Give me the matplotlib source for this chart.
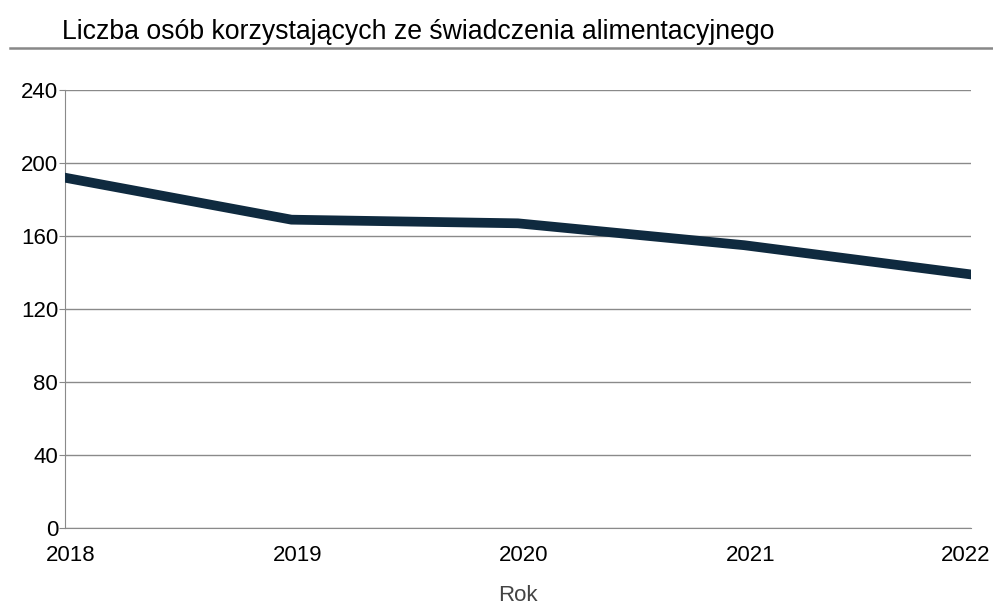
import matplotlib
matplotlib.use("Agg")
import matplotlib.pyplot as plt
import matplotlib.transforms as mtransforms
from matplotlib.lines import Line2D

# data
years = [2018, 2019, 2020, 2021, 2022]
persons = [192, 169, 167, 155, 139]
yticks = [0, 40, 80, 120, 160, 200, 240]

plt.rcParams['font.family'] = ['Liberation Sans', 'DejaVu Sans']

fig = plt.figure(figsize=(9.93, 6.09), dpi=100)
ax = fig.add_axes([0.0655, 0.133, 0.912, 0.719])

ax.plot(years, persons, color='#0f2a3f', lw=7, solid_joinstyle='miter', zorder=3)

ax.set_xlim(2018, 2022)
ax.set_ylim(0, 240)
ax.set_yticks(yticks)
ax.set_xticks(years)
ax.tick_params(axis='y', length=4, color='#888888', labelsize=16, pad=1)
ax.tick_params(axis='x', length=0, labelsize=16, pad=12)
ax.grid(axis='y', color='#8a8a8a', lw=1.0)
ax.set_axisbelow(True)

# nudge year labels so the last one stays inside the figure
labels = ax.get_xticklabels()
for i, lab in enumerate(labels):
    dx = -5 if i == len(labels) - 1 else 6
    lab.set_transform(lab.get_transform() +
                      mtransforms.ScaledTranslation(dx / 100, 0, fig.dpi_scale_trans))

for s in ['top', 'right']:
    ax.spines[s].set_visible(False)
ax.spines['left'].set_color('#8a8a8a')
ax.spines['bottom'].set_color('#8a8a8a')

ax.set_xlabel('Rok', fontsize=16, color='#444444', labelpad=14)

fig.text(0.062, 0.948, 'Liczba osób korzystających ze świadczenia alimentacyjnego',
         fontsize=19.2, va='center', ha='left')
fig.add_artist(Line2D([0.01, 1.0], [0.921, 0.921], color='#888888', lw=1.8,
                      transform=fig.transFigure))

fig.savefig('out.png', dpi=100)
